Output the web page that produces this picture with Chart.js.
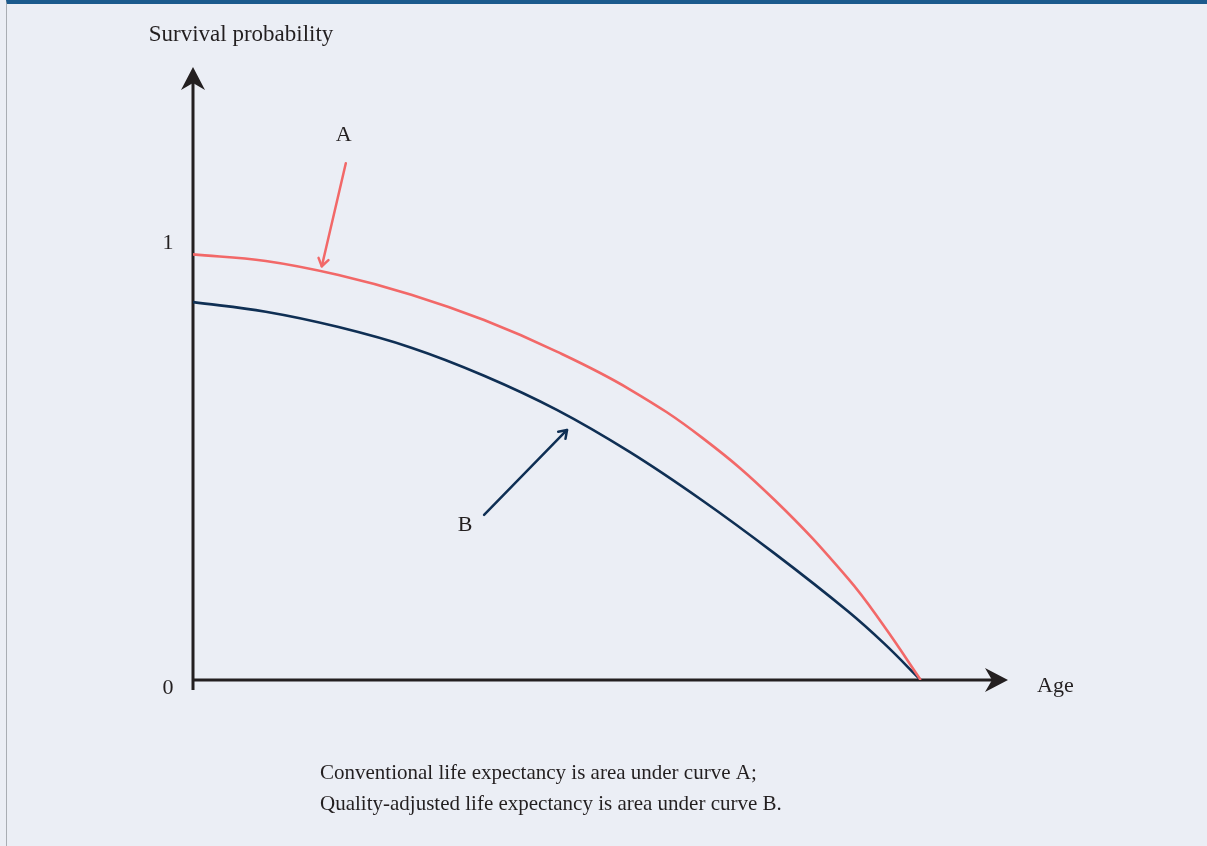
<!DOCTYPE html>
<html>
<head>
<meta charset="utf-8">
<script src="https://cdn.jsdelivr.net/npm/chart.js@4/dist/chart.umd.min.js"></script>
<style>
  html, body { margin: 0; padding: 0; }
  body { width: 1207px; height: 846px; background: #ebeef5; position: relative; overflow: hidden; }
  #frame { position: absolute; left: 6px; top: 0; right: 0; bottom: 0; border-top: 4px solid #1b5a8d; border-left: 1px solid #a9adb3; box-sizing: border-box; }
  #wrap { position: absolute; left: 0; top: 0; width: 1207px; height: 846px; }
</style>
</head>
<body>
<div id="frame"></div>
<div id="wrap"><canvas id="chartOne"></canvas></div>
<script>
// edades (escala relativa, 100 = fin de la vida)
let ages = [0, 10, 20, 30, 40, 50, 60, 70, 80, 90, 95, 100];
// curva A: supervivencia convencional
let survivalA = [0.972, 0.957, 0.925, 0.880, 0.822, 0.750, 0.664, 0.553, 0.410, 0.232, 0.122, 0];
// curva B: ajustada por calidad
let survivalB = [0.863, 0.841, 0.806, 0.759, 0.695, 0.617, 0.521, 0.410, 0.288, 0.157, 0.083, 0];
let yTicks = [0, 1];

let serif = "'Liberation Serif', 'DejaVu Serif', serif";
let ink = '#231f20';

function toPoints(xs, ys) {
    return xs.map((x, i) => ({ x: x, y: ys[i] }));
}

function stealthHead(ctx, x, y, angle) {
    ctx.save();
    ctx.translate(x, y);
    ctx.rotate(angle);
    ctx.beginPath();
    ctx.moveTo(0, 0);
    ctx.lineTo(-23, -12);
    ctx.lineTo(-16, 0);
    ctx.lineTo(-23, 12);
    ctx.closePath();
    ctx.fillStyle = ink;
    ctx.fill();
    ctx.restore();
}

function openArrow(ctx, x1, y1, x2, y2, color) {
    let ang = Math.atan2(y2 - y1, x2 - x1);
    ctx.save();
    ctx.strokeStyle = color;
    ctx.lineWidth = 2.5;
    ctx.lineCap = 'round';
    ctx.lineJoin = 'round';
    ctx.beginPath();
    ctx.moveTo(x1, y1);
    ctx.lineTo(x2, y2);
    ctx.stroke();
    ctx.beginPath();
    ctx.moveTo(x2 - 9 * Math.cos(ang - 0.6), y2 - 9 * Math.sin(ang - 0.6));
    ctx.lineTo(x2, y2);
    ctx.lineTo(x2 - 9 * Math.cos(ang + 0.6), y2 - 9 * Math.sin(ang + 0.6));
    ctx.stroke();
    ctx.restore();
}

// ejes con flechas, etiquetas y notas
const decoraciones = {
    id: 'decoraciones',
    beforeDatasetsDraw(chart) {
        let ctx = chart.ctx;
        let sx = chart.scales.x, sy = chart.scales.y;
        let x0 = sx.getPixelForValue(0), y0 = sy.getPixelForValue(0);
        let xEnd = sx.right, yEnd = sy.top;
        ctx.save();
        ctx.strokeStyle = ink;
        ctx.lineWidth = 3;
        ctx.beginPath();
        ctx.moveTo(x0, y0 + 10);
        ctx.lineTo(x0, yEnd + 10);
        ctx.moveTo(x0 - 1.5, y0);
        ctx.lineTo(xEnd - 10, y0);
        ctx.stroke();
        ctx.restore();
        stealthHead(ctx, x0, yEnd, -Math.PI / 2);
        stealthHead(ctx, xEnd, y0, 0);
    },
    afterDatasetsDraw(chart) {
        let ctx = chart.ctx;
        let sx = chart.scales.x, sy = chart.scales.y;
        let px = v => sx.getPixelForValue(v), py = v => sy.getPixelForValue(v);
        ctx.save();
        ctx.fillStyle = ink;
        ctx.textBaseline = 'middle';
        ctx.textAlign = 'center';
        ctx.font = '23px ' + serif;
        ctx.fillText('Survival probability', px(0) + 48, 35);
        ctx.font = '22px ' + serif;
        yTicks.forEach(t => {
            ctx.fillText(String(t), px(0) - 25, py(t) + (t === 0 ? 8 : 1));
        });
        ctx.textAlign = 'left';
        ctx.fillText('Age', sx.right + 29, py(0) + 6);
        ctx.textAlign = 'center';
        ctx.fillText('A', px(20.7), py(1.245));
        ctx.fillText('B', px(37.4), py(0.354));
        ctx.textAlign = 'left';
        ctx.font = '21px ' + serif;
        ctx.fillText('Conventional life expectancy is area under curve A;', 320, 773);
        ctx.fillText('Quality-adjusted life expectancy is area under curve B.', 320, 804);
        ctx.restore();
        openArrow(ctx, px(21.0), py(1.180), px(17.7), py(0.945), '#f26868');
        openArrow(ctx, px(40.0), py(0.377), px(51.4), py(0.571), '#0f2f54');
    }
};

var ctxOne = document.getElementById('chartOne').getContext('2d');
var chartOne = new Chart(ctxOne, {
    type: 'scatter',
    data: {
        datasets: [{
            label: 'A',
            data: toPoints(ages, survivalA),
            showLine: true,
            borderColor: '#f26868',
            borderWidth: 2.6,
            pointRadius: 0,
            tension: 0.4
        }, {
            label: 'B',
            data: toPoints(ages, survivalB),
            showLine: true,
            borderColor: '#0f2f54',
            borderWidth: 2.6,
            pointRadius: 0,
            tension: 0.4
        }]
    },
    options: {
        responsive: true,
        maintainAspectRatio: false,
        animation: false,
        layout: {
            padding: { left: 193, right: 199, top: 67, bottom: 166 }
        },
        scales: {
            x: { type: 'linear', min: 0, max: 112, display: false },
            y: { type: 'linear', min: 0, max: 1.4, display: false }
        },
        plugins: {
            legend: { display: false },
            tooltip: { enabled: false }
        }
    },
    plugins: [decoraciones]
});
</script>
</body>
</html>
